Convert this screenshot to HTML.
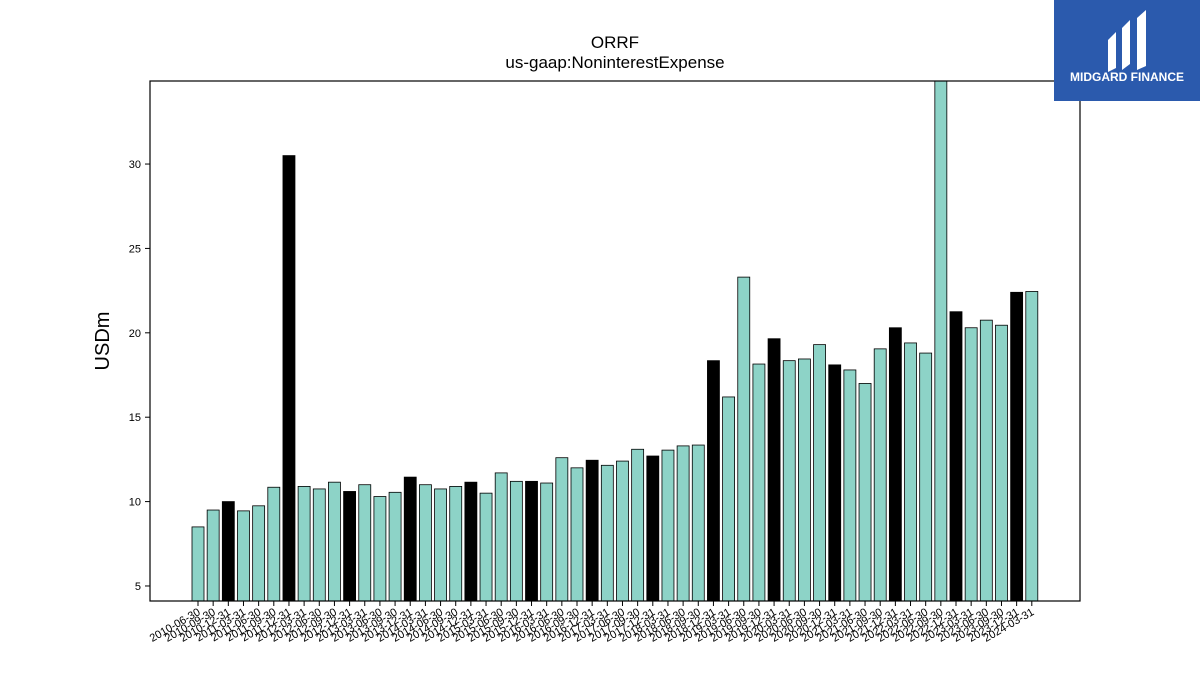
<!DOCTYPE html>
<html><head><meta charset="utf-8"><style>
body{margin:0;background:#fff;font-family:"Liberation Sans",sans-serif}
svg text{font-family:"Liberation Sans",sans-serif}
</style></head><body>
<svg id="chart" width="1200" height="675" xmlns="http://www.w3.org/2000/svg">
<text x="615" y="48" text-anchor="middle" font-size="17">ORRF</text>
<text x="615" y="68" text-anchor="middle" font-size="17">us-gaap:NoninterestExpense</text>
<text transform="translate(109,341) rotate(-90)" text-anchor="middle" font-size="20">USDm</text>
<g id="bars"></g>
<g id="yticks"></g>
<g id="xticks"></g>
<rect x="150" y="81" width="930" height="520" fill="none" stroke="#000" stroke-width="1.2"/>
<g>
<rect x="1054" y="0" width="146" height="101" fill="#2b5aad"/>
<path d="M1108 40 L1116 32 L1116 68 L1108 72 Z M1122 28 L1130 20 L1130 64 L1122 70 Z M1137 18 L1146 10 L1146 66 L1137 70 Z" fill="#fff"/>
<text x="1127" y="81" text-anchor="middle" font-size="12" font-weight="bold" fill="#fff">MIDGARD FINANCE</text>
</g>
</svg>
<script>
const categories=[];
for(let y=2010;y<=2024;y++){for(const q of ["03-31","06-30","09-30","12-31"]){const d=y+"-"+q;if(d>="2010-06-30"&&d<="2024-03-31")categories.push(d);}}
const values=[8.5,9.5,10.0,9.45,9.75,10.85,30.5,10.9,10.75,11.15,10.6,11.0,10.3,10.55,11.45,11.0,10.75,10.9,11.15,10.5,11.7,11.2,11.2,11.1,12.6,12.0,12.45,12.15,12.4,13.1,12.7,13.05,13.3,13.35,18.35,16.2,23.3,18.15,19.65,18.35,18.45,19.3,18.1,17.8,17.0,19.05,20.3,19.4,18.8,36,21.25,20.3,20.75,20.45,22.4,22.45];
const yTicks=[5,10,15,20,25,30];
const NS="http://www.w3.org/2000/svg";
const x0=150,x1=1080,yT=81,yB=601,vMin=4.11,vMax=34.92;
const yS=v=>yB-(v-vMin)/(vMax-vMin)*(yB-yT);
const step=15.16,first=198;
const xS=i=>first+i*step;
const bars=document.getElementById('bars'),yt=document.getElementById('yticks'),xt=document.getElementById('xticks');
function mk(t,a){const e=document.createElementNS(NS,t);for(const k in a)e.setAttribute(k,a[k]);return e;}
values.forEach((v,i)=>{
 const top=Math.max(yS(v),yT);
 const r=mk('rect',{x:xS(i)-6,y:top,width:12,height:yB-top,fill:categories[i].endsWith("12-31")?"#000":"#8dd3c7",stroke:"#000","stroke-width":0.8});
 
 
 bars.appendChild(r);
 const tk=mk('line',{x1:xS(i),x2:xS(i),y1:yB,y2:yB+5,stroke:"#000"});
 
 
 xt.appendChild(tk);
 const lb=mk('text',{transform:`translate(${xS(i)+3},${yB+13}) rotate(-30)`,"text-anchor":"end","font-size":11});
 lb.textContent=categories[i];
 
 
 xt.appendChild(lb);
});
yTicks.forEach(v=>{
 const y=yS(v);
 const tk=mk('line',{x1:x0-5,x2:x0,y1:y,y2:y,stroke:"#000"});
 
 
 yt.appendChild(tk);
 const lb=mk('text',{x:x0-9,y:y+4,"text-anchor":"end","font-size":11});
 lb.textContent=v;
 
 
 yt.appendChild(lb);
});
</script>
</body></html>
